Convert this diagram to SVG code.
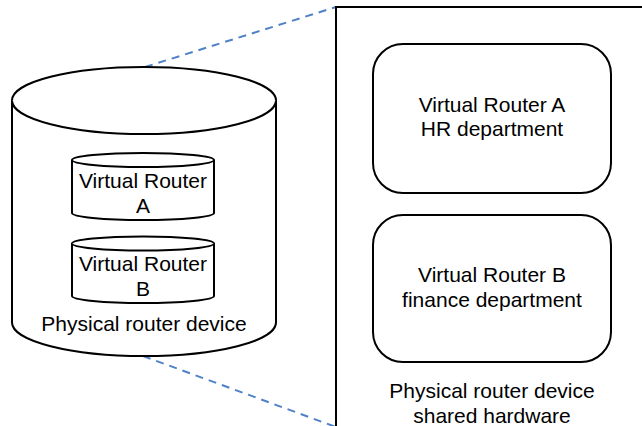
<svg xmlns="http://www.w3.org/2000/svg" width="642" height="426" viewBox="0 0 642 426">
<style>
.s{fill:#fff;stroke:#000;stroke-width:2}
.t{font-family:"Liberation Sans",Arial,sans-serif;font-size:21px;fill:#000;text-anchor:middle}
.d{fill:none;stroke:#4f81c7;stroke-width:2;stroke-dasharray:8 6}
</style>
<rect width="642" height="426" fill="#fff"/>
<g id="connectors">
<line class="d" x1="145" y1="67" x2="336" y2="7"/>
<line class="d" x1="143" y1="356" x2="336" y2="427"/>
</g>
<g id="physical-device">
<path class="s" d="M12,100.5 A132,33.5 0 0 1 276,100.5 L276,322.5 A132,33.5 0 0 1 12,322.5 Z"/>
<path class="s" d="M12,100.5 A132,33.5 0 0 0 276,100.5"/>
<text class="t" x="144" y="331">Physical router device</text>
</g>
<g id="vr-a-cyl">
<path class="s" d="M72,160 A71,7 0 0 1 214,160 L214,213 A71,7 0 0 1 72,213 Z"/>
<path class="s" d="M72,160 A71,7 0 0 0 214,160"/>
<text class="t" x="143" y="188">Virtual Router</text>
<text class="t" x="143" y="213">A</text>
</g>
<g id="vr-b-cyl">
<path class="s" d="M72,243.5 A71,7 0 0 1 214,243.5 L214,296 A71,7 0 0 1 72,296 Z"/>
<path class="s" d="M72,243.5 A71,7 0 0 0 214,243.5"/>
<text class="t" x="143" y="271">Virtual Router</text>
<text class="t" x="143" y="296">B</text>
</g>
<g id="shared-hardware">
<path fill="none" stroke="#000" stroke-width="2" d="M336,427 L336,7 L643,7"/>
<text class="t" x="492" y="398">Physical router device</text>
<text class="t" x="492" y="423">shared hardware</text>
</g>
<g id="vr-a">
<rect class="s" x="373" y="44" width="238" height="149" rx="30" ry="30"/>
<text class="t" x="492" y="112">Virtual Router A</text>
<text class="t" x="492" y="136">HR department</text>
</g>
<g id="vr-b">
<rect class="s" x="373" y="215" width="238" height="147" rx="30" ry="30"/>
<text class="t" x="492" y="282">Virtual Router B</text>
<text class="t" x="492" y="307">finance department</text>
</g>
</svg>
